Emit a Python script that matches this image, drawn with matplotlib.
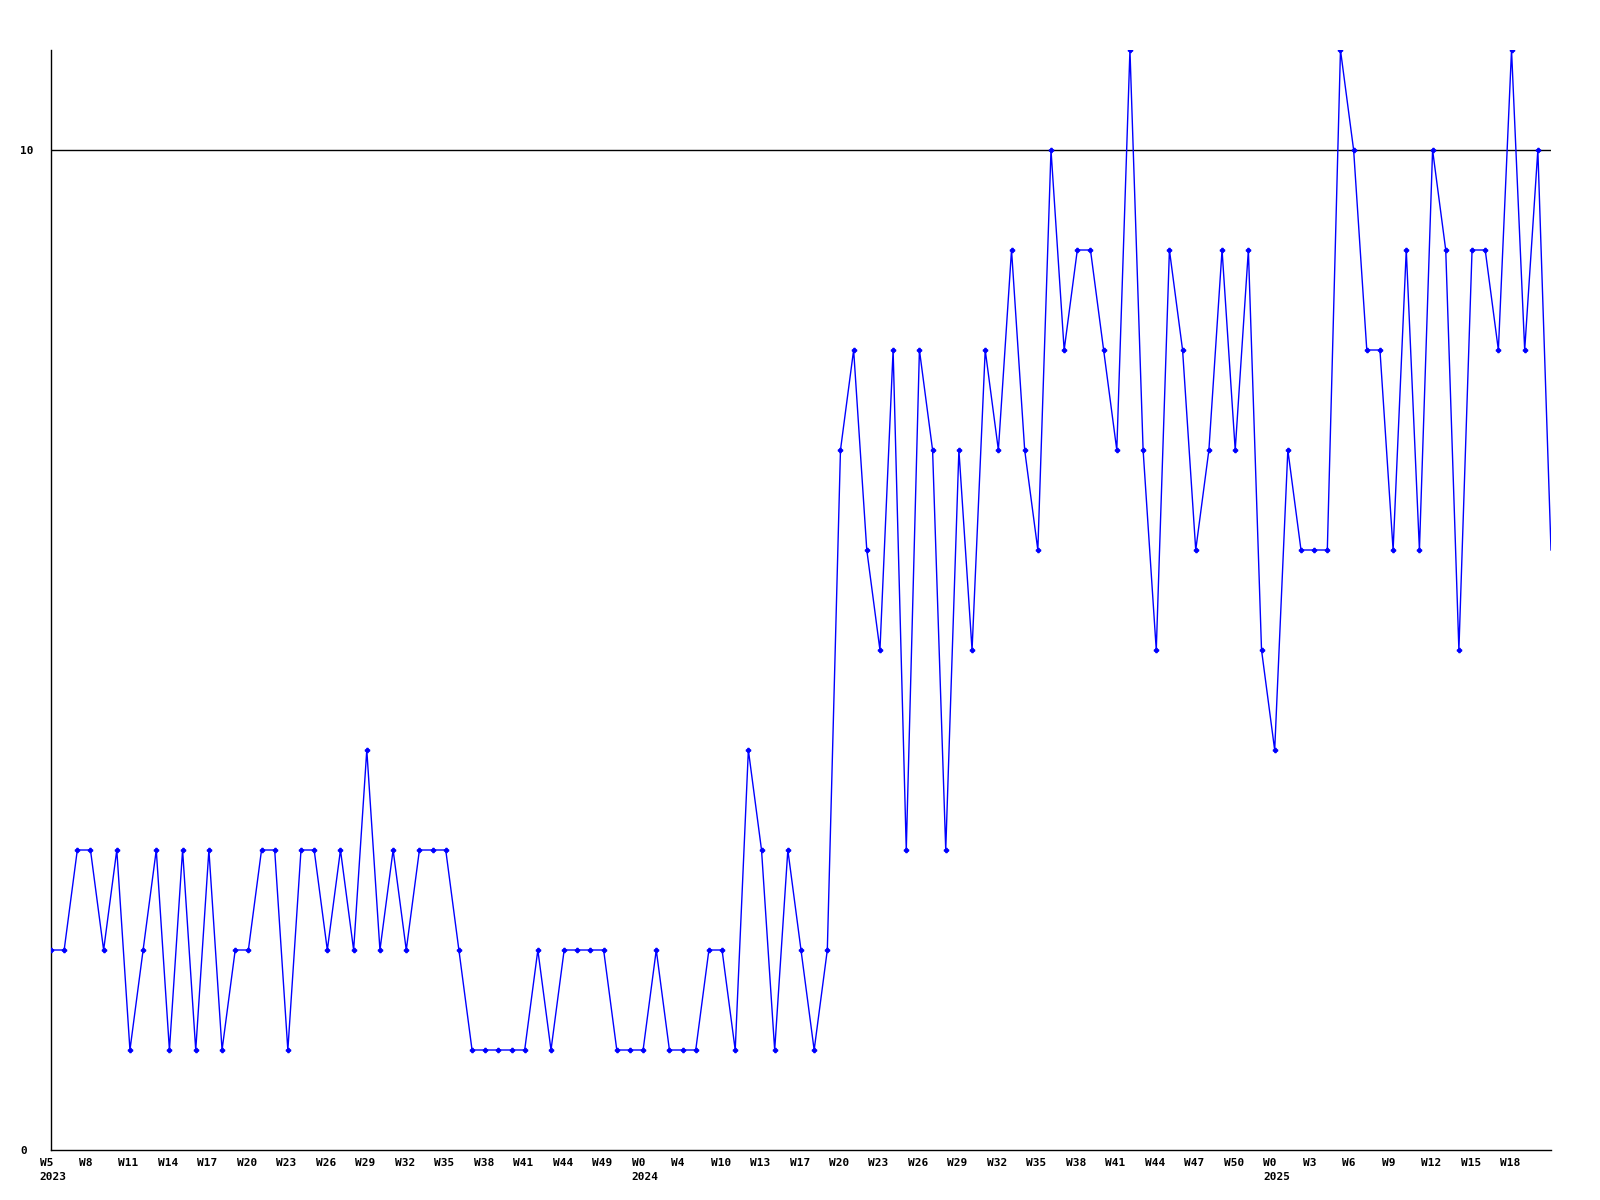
import matplotlib
matplotlib.use('Agg')
import matplotlib.pyplot as plt
import matplotlib.transforms as mtransforms

# weekly values, one point per week slot
vals_2023a = [2, 2, 3, 3, 2, 3, 1, 2, 3, 1, 3, 1, 3, 1, 2, 2, 3, 3, 1, 3, 3, 2, 3, 2, 4, 2, 3, 2, 3, 3, 3, 2, 1]
vals_2023b = [1, 1, 1, 1, 2, 1, 2, 2, 2, 2, 1, 1, 1, 2, 1, 1, 1, 2, 2, 1, 4, 3, 1, 3, 2, 1, 2]
vals_2024 = [7, 8, 6, 5, 8, 3, 8, 7, 3, 7, 5, 8, 7, 9, 7, 6, 10, 8, 9, 9,
             8, 7, 11, 7, 5, 9, 8, 6, 7, 9, 7, 9, 5, 4, 7, 6, 6, 6, 11, 10,
             8, 8, 6, 9, 6, 10, 9, 5, 9, 9, 8, 11, 8, 10, 6]
values = vals_2023a + vals_2023b + vals_2024

week_labels = ['W5', 'W8', 'W11', 'W14', 'W17', 'W20', 'W23', 'W26', 'W29', 'W32',
               'W35', 'W38', 'W41', 'W44', 'W49', 'W0', 'W4', 'W10', 'W13', 'W17',
               'W20', 'W23', 'W26', 'W29', 'W32', 'W35', 'W38', 'W41', 'W44', 'W47',
               'W50', 'W0', 'W3', 'W6', 'W9', 'W12', 'W15', 'W18']
years = {0: '2023', 15: '2024', 31: '2025'}   # label index -> year shown below
label_step = 3
ref_level = 10

fig = plt.figure(figsize=(16, 12), dpi=100)
ax = fig.add_axes([51 / 1600, 50 / 1200, 1500 / 1600, 1100 / 1200])

x = list(range(len(values)))
ax.plot(x, values, color='#0000ff', linewidth=1, marker='P', markersize=3,
        markevery=slice(0, len(values) - 1), zorder=3)
ax.axhline(ref_level, color='black', linewidth=1, zorder=2)

ax.set_xlim(0, len(values) - 1)
ax.set_ylim(0, 11)

font = dict(family='DejaVu Sans Mono', weight='bold', size=8)

ticks = [i * label_step for i in range(len(week_labels))]
labels = [w + ('\n' + years[i] if i in years else '') for i, w in enumerate(week_labels)]
ax.set_xticks(ticks)
ax.set_xticklabels(labels, ha='left', multialignment='left', linespacing=1.5, **font)
ax.tick_params(axis='x', length=0, pad=5.5)
shift = mtransforms.ScaledTranslation(-11.5 / 100, 0, fig.dpi_scale_trans)
for lab in ax.get_xticklabels():
    lab.set_transform(lab.get_transform() + shift)

ax.set_yticks([0, 10])
ax.set_yticklabels(['0', '10'], ha='left', **font)
ax.tick_params(axis='y', length=0, pad=22)

for side in ('top', 'right'):
    ax.spines[side].set_visible(False)
for side in ('left', 'bottom'):
    ax.spines[side].set_linewidth(1)
    ax.spines[side].set_color('black')

fig.savefig('out.png', dpi=100, facecolor='white')
